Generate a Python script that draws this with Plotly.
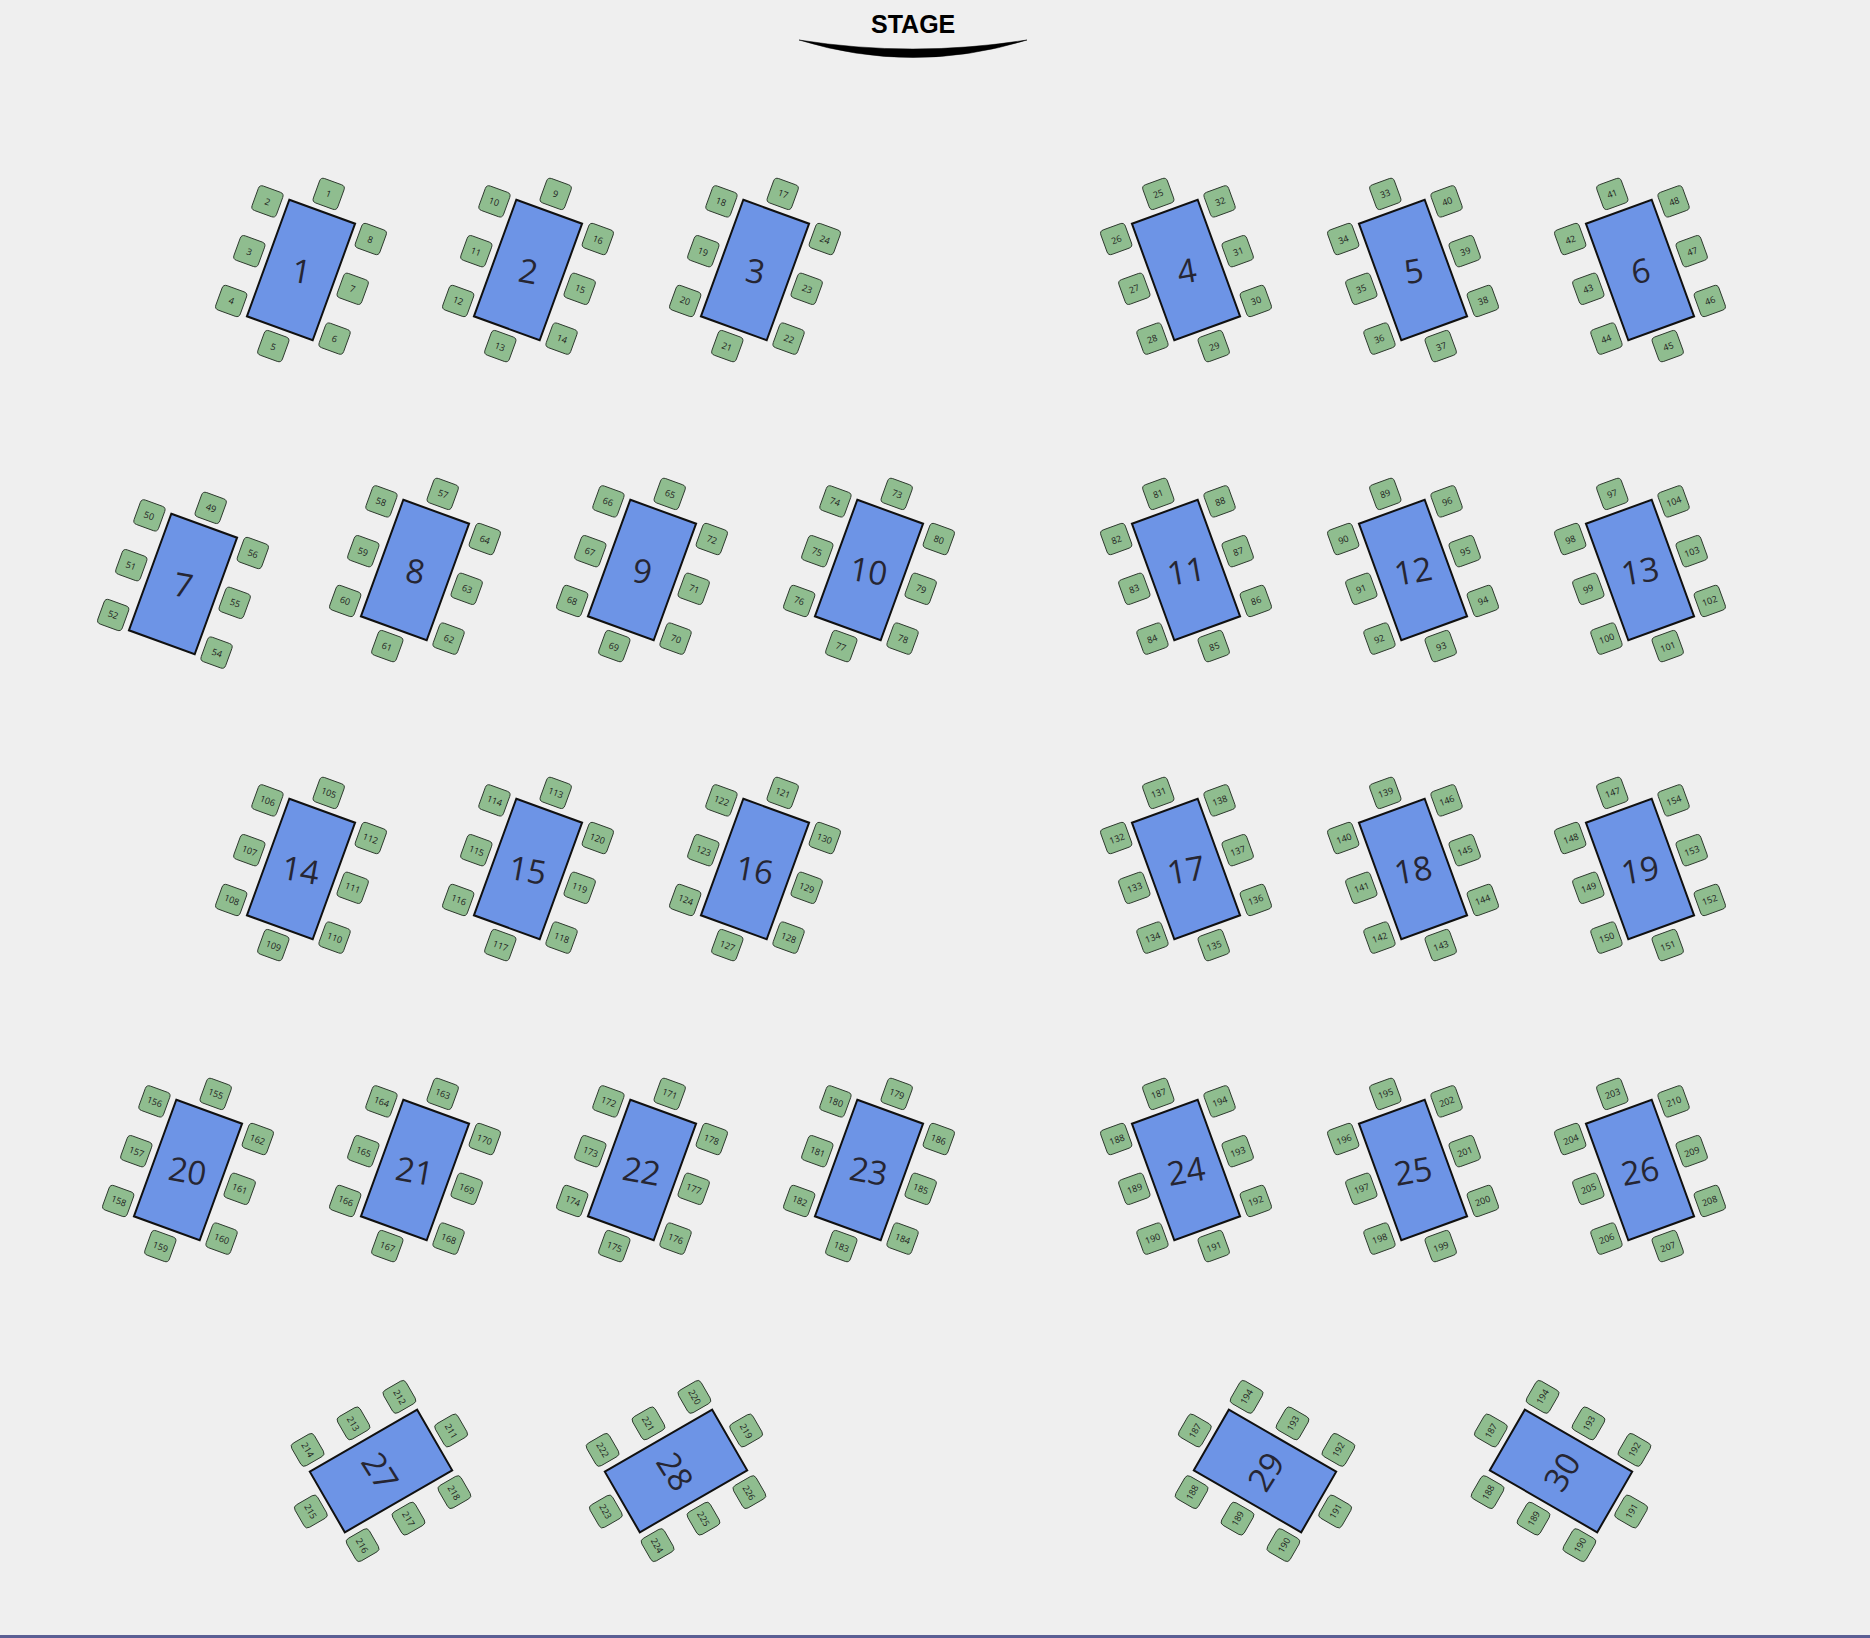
import math
import plotly.graph_objects as go

# table data (centre in page pixels, rotation in degrees, clockwise positive)
table_ids = [str(i) for i in range(1, 31)]
table_x = [301, 528, 755, 1186, 1413, 1640,
           183, 415, 642, 869, 1186, 1413, 1640,
           301, 528, 755, 1186, 1413, 1640,
           188, 415, 642, 869, 1186, 1413, 1640,
           381, 676, 1265, 1561]
table_y = [270, 270, 270, 270, 270, 270,
           584, 570, 570, 570, 570, 570, 570,
           869, 869, 869, 869, 869, 869,
           1170, 1170, 1170, 1170, 1170, 1170, 1170,
           1471, 1471, 1471, 1471]
table_angle = [20, 20, 20, -20, -20, -20,
               20, 20, 20, 20, -20, -20, -20,
               20, 20, 20, -20, -20, -20,
               20, 20, 20, 20, -20, -20, -20,
               60, 60, -60, -60]
# rotation of the big table number
number_angle = [10, 10, 10, -10, -10, -10,
                10, 10, 10, 10, -10, -10, -10,
                10, 10, 10, -10, -10, -10,
                10, 10, 10, 10, -10, -10, -10,
                58, 58, -58, -58]

# seat labels per table: top, left-top, left-mid, left-bottom, bottom, right-bottom, right-mid, right-top
seat_labels = [
    ["1", "2", "3", "4", "5", "6", "7", "8"],
    ["9", "10", "11", "12", "13", "14", "15", "16"],
    ["17", "18", "19", "20", "21", "22", "23", "24"],
    ["25", "26", "27", "28", "29", "30", "31", "32"],
    ["33", "34", "35", "36", "37", "38", "39", "40"],
    ["41", "42", "43", "44", "45", "46", "47", "48"],
    ["49", "50", "51", "52", None, "54", "55", "56"],
    ["57", "58", "59", "60", "61", "62", "63", "64"],
    ["65", "66", "67", "68", "69", "70", "71", "72"],
    ["73", "74", "75", "76", "77", "78", "79", "80"],
    ["81", "82", "83", "84", "85", "86", "87", "88"],
    ["89", "90", "91", "92", "93", "94", "95", "96"],
    ["97", "98", "99", "100", "101", "102", "103", "104"],
    ["105", "106", "107", "108", "109", "110", "111", "112"],
    ["113", "114", "115", "116", "117", "118", "119", "120"],
    ["121", "122", "123", "124", "127", "128", "129", "130"],
    ["131", "132", "133", "134", "135", "136", "137", "138"],
    ["139", "140", "141", "142", "143", "144", "145", "146"],
    ["147", "148", "149", "150", "151", "152", "153", "154"],
    ["155", "156", "157", "158", "159", "160", "161", "162"],
    ["163", "164", "165", "166", "167", "168", "169", "170"],
    ["171", "172", "173", "174", "175", "176", "177", "178"],
    ["179", "180", "181", "182", "183", "184", "185", "186"],
    ["187", "188", "189", "190", "191", "192", "193", "194"],
    ["195", "196", "197", "198", "199", "200", "201", "202"],
    ["203", "204", "205", "206", "207", "208", "209", "210"],
    ["211", "212", "213", "214", "215", "216", "217", "218"],
    ["219", "220", "221", "222", "223", "224", "225", "226"],
    ["187", "188", "189", "190", "191", "192", "193", "194"],
    ["187", "188", "189", "190", "191", "192", "193", "194"],
]

W, H = 1870, 1638
TABLE_W, TABLE_H = 70, 124
SEAT = 26
SEAT_R = 4
# seat offsets in the table's own frame
seat_pos = [(0, -81), (-55, -53), (-55, 0), (-55, 53), (0, 81), (55, 53), (55, 0), (55, -53)]

BG = "#efefef"
TABLE_FILL = "#6d94e6"
SEAT_FILL = "#8fbd8f"


def rot(px, py, deg):
    a = math.radians(deg)
    return px * math.cos(a) - py * math.sin(a), px * math.sin(a) + py * math.cos(a)


def rect_path(cx, cy, w, h, deg):
    pts = [(-w / 2, -h / 2), (w / 2, -h / 2), (w / 2, h / 2), (-w / 2, h / 2)]
    out = []
    for px, py in pts:
        rx, ry = rot(px, py, deg)
        out.append(f"{cx + rx:.2f},{cy + ry:.2f}")
    return "M" + " L".join(out) + " Z"


def rounded_path(cx, cy, s, r, deg):
    h = s / 2
    seq = [("M", (-h + r, -h)), ("L", (h - r, -h)), ("Q", (h, -h), (h, -h + r)),
           ("L", (h, h - r)), ("Q", (h, h), (h - r, h)),
           ("L", (-h + r, h)), ("Q", (-h, h), (-h, h - r)),
           ("L", (-h, -h + r)), ("Q", (-h, -h), (-h + r, -h))]
    parts = []
    for item in seq:
        cmd = item[0]
        coords = []
        for px, py in item[1:]:
            rx, ry = rot(px, py, deg)
            coords.append(f"{cx + rx:.2f},{cy + ry:.2f}")
        parts.append(cmd + " ".join(coords))
    return " ".join(parts) + " Z"


shapes = []
annotations = []

for i, tid in enumerate(table_ids):
    cx, cy, ang = table_x[i], table_y[i], table_angle[i]
    shapes.append(dict(type="path", xref="x", yref="y", path=rect_path(cx, cy, TABLE_W, TABLE_H, ang),
                       fillcolor=TABLE_FILL, line=dict(color="#111111", width=2), layer="above"))
    annotations.append(dict(x=cx, y=cy, xref="x", yref="y", text=tid, showarrow=False,
                            textangle=number_angle[i],
                            font=dict(family="Open Sans", size=33, color="#262633")))
    for (sx, sy), lab in zip(seat_pos, seat_labels[i]):
        if lab is None:
            continue
        ox, oy = rot(sx, sy, ang)
        shapes.append(dict(type="path", xref="x", yref="y",
                           path=rounded_path(cx + ox, cy + oy, SEAT, SEAT_R, ang),
                           fillcolor=SEAT_FILL, line=dict(color="#2e3a2e", width=1), layer="above"))
        annotations.append(dict(x=cx + ox, y=cy + oy, xref="x", yref="y", text=lab, showarrow=False,
                                textangle=ang,
                                font=dict(family="Open Sans", size=9, color="#1e1e1e")))

# stage
stage_x, stage_y, stage_half = 913, 40, 114
shapes.append(dict(type="path", xref="x", yref="y",
                   path=f"M{stage_x - stage_half},{stage_y} Q{stage_x},{stage_y + 18} {stage_x + stage_half},{stage_y} "
                        f"Q{stage_x},{stage_y + 35} {stage_x - stage_half},{stage_y} Z",
                   fillcolor="#000000", line=dict(color="#000000", width=0.5)))
annotations.append(dict(x=stage_x, y=24, xref="x", yref="y", text="<b>STAGE</b>", showarrow=False,
                        font=dict(family="Liberation Sans", size=25, color="#000000")))

# bottom border
shapes.append(dict(type="line", xref="paper", yref="y", x0=0, x1=1, y0=H - 1.5, y1=H - 1.5,
                   line=dict(color="#5b5f94", width=3)))

fig = go.Figure()
fig.add_trace(go.Scatter(x=[0, W], y=[0, H], mode="markers", marker=dict(opacity=0),
                         hoverinfo="skip", showlegend=False))

fig.update_xaxes(range=[0, W], visible=False, showgrid=False, zeroline=False, fixedrange=True)
fig.update_yaxes(range=[H, 0], visible=False, showgrid=False, zeroline=False, fixedrange=True)

fig.update_layout(
    width=W, height=H,
    margin=dict(l=0, r=0, t=0, b=0),
    plot_bgcolor=BG,
    paper_bgcolor=BG,
    shapes=shapes,
    annotations=annotations,
    showlegend=False,
)

fig.write_html("out.html", config={"displayModeBar": False},
               post_script="document.body.style.margin='0';document.body.style.background='#efefef';")
